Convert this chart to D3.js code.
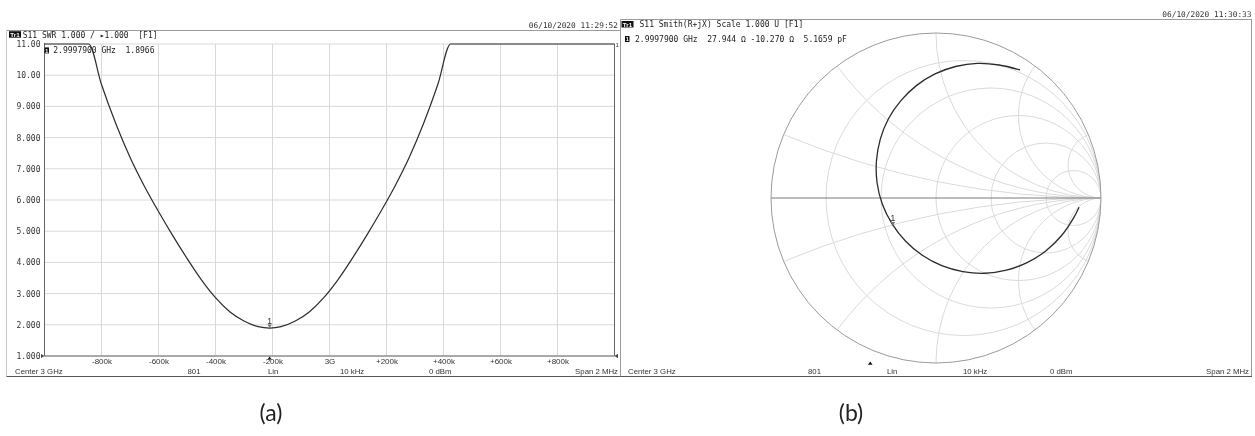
<!DOCTYPE html>
<html>
<head>
<meta charset="utf-8">
<script src="https://cdn.jsdelivr.net/npm/d3@7"></script>
<style>
  html, body { margin: 0; padding: 0; background: #fff; }
  svg { display: block; will-change: transform; }
  .mono { font-family: "DejaVu Sans Mono", monospace; }
  .sans { font-family: "Liberation Sans", Arial, sans-serif; }
</style>
</head>
<body>
<svg id="chart" width="1255" height="436"></svg>
<script>
// ---- SWR sweep, offset from the 3 GHz centre (kHz); display limit is 11 ----
const sweepOffsetsKHz = [-1000, -900, -845, -800, -750, -700, -650, -600, -550, -500, -450,
  -400, -350, -300, -250, -210, -170, -120, -70, -20, 30, 80, 130, 180, 230, 280, 330, 380,
  425, 500, 700, 1000];
const swrValues = [11, 11, 11, 9.70, 8.45, 7.37, 6.45, 5.63, 4.86, 4.13, 3.45,
  2.87, 2.42, 2.12, 1.94, 1.8966, 1.94, 2.12, 2.42, 2.87, 3.45, 4.13, 4.86, 5.63, 6.45, 7.37, 8.45, 9.70,
  11, 11, 11, 11];

// ---- SWR axis ticks ----
const swrTicks = [11, 10, 9, 8, 7, 6, 5, 4, 3, 2, 1];
const swrTickLabels = ["11.00", "10.00", "9.000", "8.000", "7.000", "6.000", "5.000", "4.000", "3.000", "2.000", "1.000"];
const freqTicksKHz = [-800, -600, -400, -200, 0, 200, 400, 600, 800];
const freqTickLabels = ["-800k", "-600k", "-400k", "-200k", "3G", "+200k", "+400k", "+600k", "+800k"];

// ---- S11 reflection coefficient along the sweep (Smith chart trace) ----
const gammaRe = [0.509, 0.383, 0.251, 0.119, -0.006, -0.119, -0.214, -0.289, -0.338, -0.361,
  -0.357, -0.325, -0.266, -0.184, -0.083, 0.035, 0.163, 0.295, 0.427, 0.552, 0.665, 0.760, 0.835, 0.867];
const gammaIm = [0.776, 0.806, 0.816, 0.797, 0.752, 0.681, 0.589, 0.479, 0.355, 0.224,
  0.091, -0.038, -0.157, -0.262, -0.347, -0.410, -0.446, -0.456, -0.437, -0.392, -0.321, -0.229, -0.119, -0.056];

// ---- Smith chart grid ----
const resistanceCircles = [0.2, 0.5, 1, 2, 5];
const reactanceArcs = [0.2, 0.5, 1, 2, 5, -0.2, -0.5, -1, -2, -5];

// ---- Marker 1 ----
const markerFreqGHz = 2.99979;
const markerSWR = 1.8966;
const markerR = 27.944;
const markerX = -10.270;
const markerCap = "5.1659 pF";
const z0 = 50;

// ---- Status bar ----
const footerLabels = ["Center 3 GHz", "801", "Lin", "10 kHz", "0 dBm", "Span 2 MHz"];

const svg = d3.select("#chart");
const ink = "#2b2b2b";
const markerOffsetKHz = Math.round((markerFreqGHz - 3) * 1e6);

function hline(g, x1, x2, y, color, w) {
  g.append("line").attr("x1", x1).attr("x2", x2).attr("y1", y).attr("y2", y)
    .attr("stroke", color).attr("stroke-width", w || 1);
}
function vline(g, x, y1, y2, color, w) {
  g.append("line").attr("x1", x).attr("x2", x).attr("y1", y1).attr("y2", y2)
    .attr("stroke", color).attr("stroke-width", w || 1);
}
function trBadge(g, x, y) {
  g.append("rect").attr("x", x).attr("y", y).attr("width", 12).attr("height", 6.5).attr("fill", "#111");
  g.append("text").attr("x", x + 6).attr("y", y + 5.6).attr("text-anchor", "middle")
    .attr("fill", "#fff").attr("font-size", 6.2).attr("font-weight", "bold")
    .attr("class", "sans").text("Tr1");
}
function markerBadge(g, x, y) {
  g.append("rect").attr("x", x).attr("y", y).attr("width", 4.5).attr("height", 6).attr("fill", "#111");
  g.append("text").attr("x", x + 2.25).attr("y", y + 5.3).attr("text-anchor", "middle")
    .attr("fill", "#fff").attr("font-size", 5.5).attr("font-weight", "bold")
    .attr("class", "sans").text("1");
}
function footer(g, xs) {
  footerLabels.forEach((t, i) => {
    g.append("text").attr("class", "sans").attr("font-size", 7.8).attr("fill", "#333")
      .attr("x", xs[i]).attr("y", 374.3)
      .attr("text-anchor", i === footerLabels.length - 1 ? "end" : "start")
      .text(t);
  });
}
function markerFlag(g, px, py) {
  g.append("path")
    .attr("d", `M${px},${py} L${px - 2.2},${py - 3.5} L${px + 2.2},${py - 3.5} Z`)
    .attr("fill", "#777");
  g.append("text").attr("class", "sans").attr("font-size", 8.5).attr("fill", ink)
    .attr("x", px).attr("y", py - 4.5).attr("text-anchor", "middle").text("1");
}

// =================== Left panel: SWR ===================
const left = svg.append("g");
hline(left, 6.5, 620.5, 30.5, "#9a9a9a");
vline(left, 6.5, 30.5, 376.5, "#c8c8c8");
vline(left, 620.5, 30.5, 376.5, "#9a9a9a");
hline(left, 6.5, 620.5, 376.5, "#555");

left.append("text").attr("class", "mono").attr("font-size", 7.8).attr("fill", "#333")
  .attr("x", 618).attr("y", 27.5).attr("text-anchor", "end").text("06/10/2020 11:29:52");
trBadge(left, 9, 31.2);
left.append("text").attr("class", "mono").attr("font-size", 8).attr("fill", "#222")
  .attr("x", 22.7).attr("y", 37.6).attr("xml:space", "preserve")
  .text("S11 SWR 1.000 / \u25B81.000  [F1]");

const xL = d3.scaleLinear().domain([-1000, 1000]).range([44.5, 614.5]);
const yL = d3.scaleLinear().domain([1, 11]).range([356, 44]);

const gridL = left.append("g");
d3.range(-800, 801, 200).forEach(v => vline(gridL, xL(v), yL(11), yL(1), "#d9d9d9"));
swrTicks.forEach(v => hline(gridL, xL(-1000), xL(1000), yL(v), "#d9d9d9"));
vline(left, xL(-1000), yL(11) - 1, yL(1), "#666");
vline(left, xL(1000), yL(11), yL(1), "#666");
hline(left, xL(-1000), xL(1000), yL(1), "#666");

const yAxis = d3.axisLeft(yL).tickValues(swrTicks).tickSize(0).tickPadding(0)
  .tickFormat((d, i) => swrTickLabels[i]);
const yAx = left.append("g").attr("transform", "translate(40.5,0)").call(yAxis);
yAx.select(".domain").remove();
yAx.attr("font-family", null).attr("font-size", null);
yAx.selectAll("text").attr("class", "mono").attr("font-size", 8).attr("fill", "#333");

const xAxis = d3.axisBottom(xL).tickValues(freqTicksKHz).tickSize(0).tickPadding(2)
  .tickFormat((d, i) => freqTickLabels[i]);
const xAx = left.append("g").attr("transform", `translate(0,${yL(1)})`).call(xAxis);
xAx.select(".domain").remove();
xAx.attr("font-family", null).attr("font-size", null);
xAx.selectAll("text").attr("class", "sans").attr("font-size", 8).attr("fill", "#333");

// reference markers on the edges
left.append("path").attr("d", `M${xL(-1000) - 3.5},${yL(1) - 2} L${xL(-1000)},${yL(1)} L${xL(-1000) - 3.5},${yL(1) + 2} Z`).attr("fill", "#444");
left.append("path").attr("d", `M${xL(1000) + 3.5},${yL(1) - 2.2} L${xL(1000)},${yL(1)} L${xL(1000) + 3.5},${yL(1) + 2.2} Z`).attr("fill", "#444");
left.append("text").attr("class", "sans").attr("font-size", 6).attr("fill", "#333")
  .attr("x", xL(1000) + 1).attr("y", yL(11) + 3).text("1");

// SWR trace
const swrData = sweepOffsetsKHz.map((o, i) => ({ o, v: swrValues[i] }));
left.append("path").datum(swrData)
  .attr("fill", "none").attr("stroke", ink).attr("stroke-width", 1.2)
  .attr("d", d3.line().x(d => xL(d.o)).y(d => yL(d.v)).curve(d3.curveMonotoneX));

// marker 1
markerFlag(left, xL(markerOffsetKHz), yL(markerSWR));
left.append("path")
  .attr("d", `M${xL(markerOffsetKHz)},${yL(1) + 0.5} l-2,3 l4,0 Z`).attr("fill", "#111");
markerBadge(left, 44.5, 47.4);
left.append("text").attr("class", "mono").attr("font-size", 8).attr("fill", "#222")
  .attr("x", 53.3).attr("y", 53).attr("xml:space", "preserve")
  .text(`${markerFreqGHz.toFixed(7)} GHz  ${markerSWR.toFixed(4)}`);

footer(left, [15, 187.5, 268, 340, 429, 618]);

// =================== Right panel: Smith chart ===================
const right = svg.append("g");
hline(right, 620.5, 1252, 19.5, "#9a9a9a");
vline(right, 1251.5, 19.5, 376.5, "#9a9a9a");
vline(right, 620.5, 19.5, 30.5, "#9a9a9a");
hline(right, 620.5, 1252, 376.5, "#555");

right.append("text").attr("class", "mono").attr("font-size", 7.8).attr("fill", "#333")
  .attr("x", 1251.5).attr("y", 17.4).attr("text-anchor", "end").text("06/10/2020 11:30:33");
trBadge(right, 621.5, 21);
right.append("text").attr("class", "mono").attr("font-size", 8).attr("fill", "#222")
  .attr("x", 639.5).attr("y", 27.4).text("S11 Smith(R+jX) Scale 1.000 U [F1]");

const sx = d3.scaleLinear().domain([-1, 1]).range([771, 1101]);
const sy = d3.scaleLinear().domain([-1, 1]).range([363, 33]);
const R = sx(1) - sx(0);

svg.append("defs").append("clipPath").attr("id", "unit")
  .append("circle").attr("cx", sx(0)).attr("cy", sy(0)).attr("r", R);

const grid = right.append("g").attr("clip-path", "url(#unit)")
  .attr("fill", "none").attr("stroke", "#dadada").attr("stroke-width", 1);
grid.selectAll("circle.r").data(resistanceCircles).join("circle")
  .attr("cx", r => sx(r / (1 + r))).attr("cy", sy(0)).attr("r", r => R / (1 + r));
grid.selectAll("circle.x").data(reactanceArcs).join("circle")
  .attr("cx", sx(1)).attr("cy", x => sy(1 / x)).attr("r", x => R / Math.abs(x));

hline(right, sx(-1), sx(1), sy(0), "#7a7a7a");
right.append("circle").attr("cx", sx(0)).attr("cy", sy(0)).attr("r", R)
  .attr("fill", "none").attr("stroke", "#9a9a9a").attr("stroke-width", 1);

// S11 trace
const gammaData = gammaRe.map((re, i) => ({ re, im: gammaIm[i] }));
right.append("path").datum(gammaData)
  .attr("fill", "none").attr("stroke", ink).attr("stroke-width", 1.3)
  .attr("d", d3.line().x(d => sx(d.re)).y(d => sy(d.im)).curve(d3.curveCatmullRom.alpha(0.5)));

// marker 1 placed from its impedance reading
const zr = markerR / z0, zi = markerX / z0;
const den = (zr + 1) * (zr + 1) + zi * zi;
const gRe = ((zr - 1) * (zr + 1) + zi * zi) / den;
const gIm = (zi * (zr + 1) - (zr - 1) * zi) / den;
markerFlag(right, sx(gRe), sy(gIm));

markerBadge(right, 625, 36);
right.append("text").attr("class", "mono").attr("font-size", 8).attr("fill", "#222")
  .attr("x", 635).attr("y", 41.6).attr("xml:space", "preserve")
  .text(`${markerFreqGHz.toFixed(7)} GHz  ${markerR.toFixed(3)} \u03A9 ${markerX.toFixed(3)} \u03A9  ${markerCap}`);

// stimulus position of marker 1 along the status bar
const stimR = d3.scaleLinear().domain([-1000, 1000]).range([621, 1252]);
right.append("path")
  .attr("d", `M${stimR(markerOffsetKHz)},${361.5} l-2.3,3.2 l4.6,0 Z`).attr("fill", "#111");

footer(right, [628, 808, 887, 963, 1050, 1249]);

// panel captions
svg.append("text").attr("font-family", "Lato, 'Open Sans', sans-serif").attr("font-size", 23)
  .attr("fill", "#222").attr("text-anchor", "middle").attr("x", 271).attr("y", 421).text("(a)");
svg.append("text").attr("font-family", "Lato, 'Open Sans', sans-serif").attr("font-size", 23)
  .attr("fill", "#222").attr("text-anchor", "middle").attr("x", 851).attr("y", 421).text("(b)");
</script>
</body>
</html>
